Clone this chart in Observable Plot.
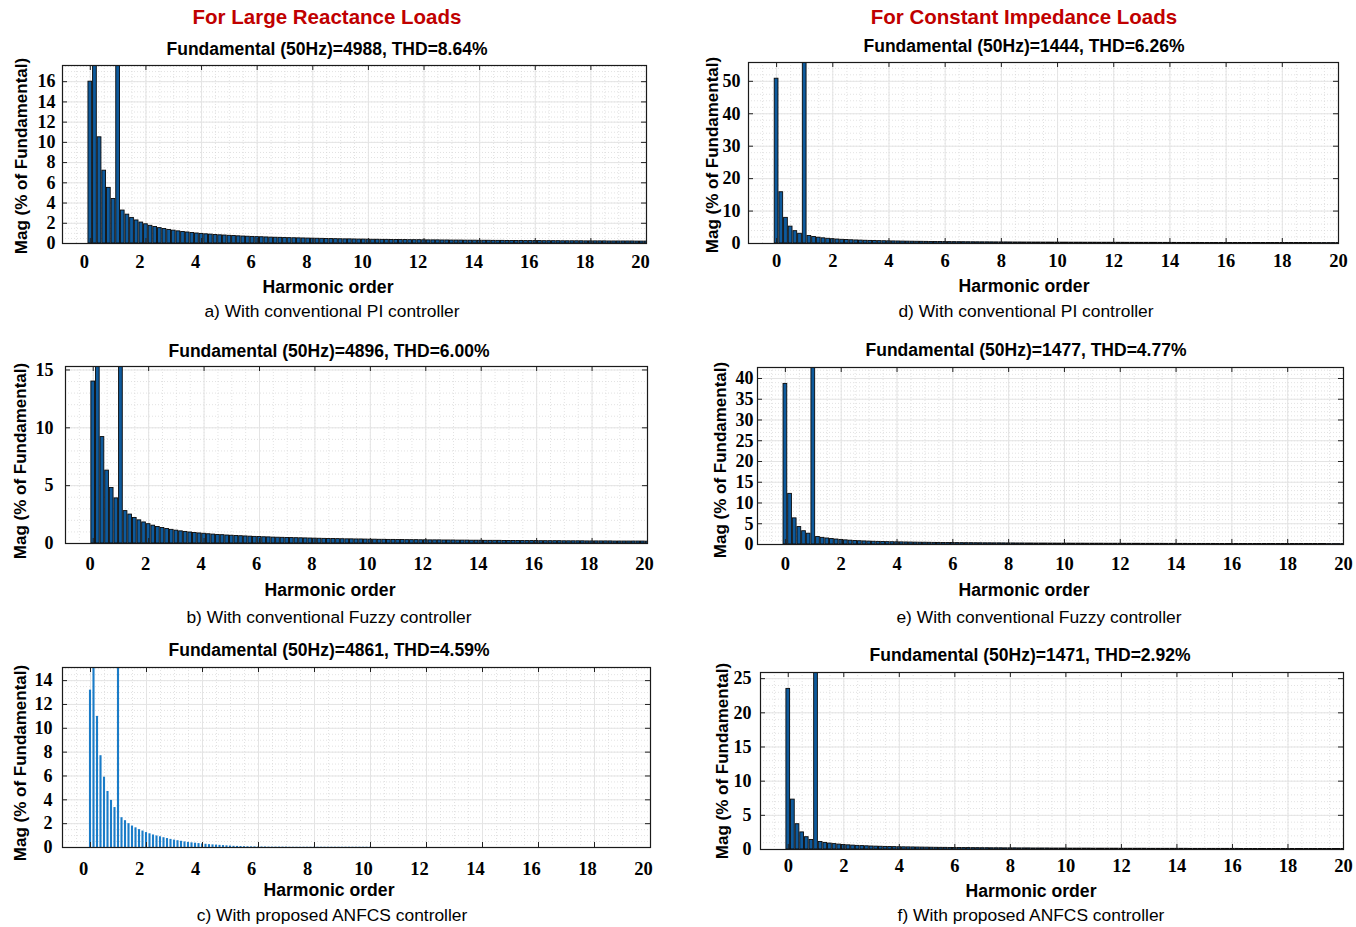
<!DOCTYPE html>
<html><head><meta charset="utf-8">
<script src="https://cdn.jsdelivr.net/npm/d3@7"></script>
<script src="https://cdn.jsdelivr.net/npm/@observablehq/plot@0.6"></script>
<style>
body{margin:0;background:#fff;}
#root{position:relative;width:1356px;height:927px;overflow:hidden;font-family:"Liberation Sans",Arial,sans-serif;color:#000;}
.t{position:absolute;white-space:nowrap;transform:translate(-50%,-50%);line-height:1;}
.hdr{font-weight:bold;font-size:20.5px;color:#c00000;}
.ttl{font-weight:bold;font-size:17.5px;}
.xl{font-weight:bold;font-size:17.6px;}
.cap{font-size:17.4px;}
.yl{font-weight:bold;font-size:17px;transform:translate(-50%,-50%) rotate(-90deg);}
.panel{position:absolute;}
</style></head><body><div id="root"></div>
<script>
// ---------- data ----------
const headers = ["For Large Reactance Loads", "For Constant Impedance Loads"];
const titles = [
  "Fundamental (50Hz)=4988, THD=8.64%",
  "Fundamental (50Hz)=4896, THD=6.00%",
  "Fundamental (50Hz)=4861, THD=4.59%",
  "Fundamental (50Hz)=1444, THD=6.26%",
  "Fundamental (50Hz)=1477, THD=4.77%",
  "Fundamental (50Hz)=1471, THD=2.92%"
];
const captions = [
  "a) With conventional PI controller",
  "b) With conventional Fuzzy controller",
  "c) With proposed ANFCS controller",
  "d) With conventional PI controller",
  "e) With conventional Fuzzy controller",
  "f) With proposed ANFCS controller"
];
const xLabel = "Harmonic order";
const yLabel = "Mag (% of Fundamental)";
const xTicks = [0, 2, 4, 6, 8, 10, 12, 14, 16, 18, 20];
const yTicksA = [0, 2, 4, 6, 8, 10, 12, 14, 16];
const yTicksB = [0, 5, 10, 15];
const yTicksC = [0, 2, 4, 6, 8, 10, 12, 14];
const yTicksD = [0, 10, 20, 30, 40, 50];
const yTicksE = [0, 5, 10, 15, 20, 25, 30, 35, 40];
const yTicksF = [0, 5, 10, 15, 20, 25];

// spectral resolution (bins per harmonic order)
const resA = 6, resB = 6, resC = 8, resD = 6, resE = 6, resF = 6;

const magA = [16.0, 19.5, 10.5, 7.2, 5.5, 4.4, 100,
  3.26, 2.85, 2.53, 2.28, 2.07, 1.9, 1.75, 1.63, 1.52, 1.43,
  1.34, 1.27, 1.2, 1.14, 1.09, 1.04, 0.99, 0.95, 0.91, 0.88,
  0.84, 0.81, 0.79, 0.76, 0.74, 0.71, 0.69, 0.67, 0.65, 0.63,
  0.62, 0.6, 0.58, 0.57, 0.56, 0.54, 0.53, 0.52, 0.51, 0.5, 0.49, 0.48,
  0.47, 0.46, 0.45, 0.44, 0.43, 0.42, 0.41, 0.41, 0.4, 0.39, 0.39, 0.38,
  0.37, 0.37, 0.36, 0.36, 0.35, 0.35, 0.34, 0.34, 0.33, 0.33, 0.33, 0.32,
  0.31, 0.31, 0.31, 0.3, 0.3, 0.29, 0.29, 0.29, 0.28, 0.28, 0.28, 0.27,
  0.27, 0.27, 0.26, 0.26, 0.26, 0.25, 0.25, 0.25, 0.25, 0.24, 0.24, 0.24,
  0.24, 0.23, 0.23, 0.23, 0.23, 0.22, 0.22, 0.22, 0.22, 0.22, 0.21, 0.21,
  0.21, 0.21, 0.21, 0.2, 0.2, 0.2, 0.2, 0.2, 0.2, 0.19, 0.19, 0.19];

const magB = [14.0, 17.0, 9.2, 6.3, 4.8, 3.9, 100,
  2.8, 2.5, 2.2, 2.0, 1.82, 1.67, 1.54, 1.43, 1.34, 1.25,
  1.18, 1.11, 1.05, 1.0, 0.95, 0.91, 0.87, 0.84, 0.8, 0.77,
  0.74, 0.72, 0.69, 0.67, 0.65, 0.63, 0.61, 0.59, 0.57, 0.56,
  0.54, 0.53, 0.51, 0.5, 0.49, 0.48, 0.47, 0.46, 0.45, 0.44, 0.43, 0.42,
  0.41, 0.4, 0.39, 0.39, 0.38, 0.37, 0.36, 0.36, 0.35, 0.35, 0.34, 0.33,
  0.33, 0.32, 0.32, 0.31, 0.31, 0.3, 0.3, 0.29, 0.29, 0.29, 0.28, 0.28,
  0.27, 0.27, 0.27, 0.26, 0.26, 0.26, 0.25, 0.25, 0.25, 0.24, 0.24, 0.24,
  0.23, 0.23, 0.23, 0.23, 0.22, 0.22, 0.22, 0.22, 0.21, 0.21, 0.21, 0.21,
  0.2, 0.2, 0.2, 0.2, 0.2, 0.19, 0.19, 0.19, 0.19, 0.19, 0.18, 0.18,
  0.18, 0.18, 0.18, 0.18, 0.17, 0.17, 0.17, 0.17, 0.17, 0.17, 0.17, 0.16];

const magC = [13.2, 16.5, 11.0, 7.7, 5.9, 4.7, 3.95, 3.35, 100,
  2.5, 2.25, 2.0, 1.8, 1.65, 1.5, 1.38, 1.25,
  1.15, 1.05, 0.97, 0.9, 0.82, 0.75, 0.68, 0.62,
  0.57, 0.52, 0.47, 0.43, 0.39, 0.36, 0.33, 0.3,
  0.27, 0.24, 0.22, 0.2, 0.18, 0.16, 0.14, 0.12,
  0.1, 0.09, 0.08, 0.07, 0.06, 0.05, 0.05, 0.04,
  0.04, 0.04, 0.03, 0.03, 0.03, 0.03, 0.03, 0.03,
  0.02, 0.02, 0.02, 0.02, 0.02, 0.02, 0.02, 0.02,
  0.02, 0.02, 0.02, 0.02, 0.02, 0.02, 0.02, 0.02,
  0.02, 0.02, 0.02, 0.02, 0.02, 0.02, 0.02, 0.02];

const magD = [50.8, 15.8, 7.9, 5.2, 3.8, 3.0, 100,
  2.3, 2.0, 1.78, 1.6, 1.45, 1.33, 1.23, 1.14, 1.07, 1.0,
  0.94, 0.89, 0.84, 0.8, 0.76, 0.73, 0.7, 0.67, 0.64, 0.62,
  0.59, 0.57, 0.55, 0.53, 0.52, 0.5, 0.48, 0.47, 0.46, 0.44,
  0.43, 0.42, 0.41, 0.4, 0.39, 0.38, 0.37, 0.36, 0.36, 0.35, 0.34, 0.33,
  0.33, 0.32, 0.31, 0.31, 0.3, 0.3, 0.29, 0.29, 0.28, 0.28, 0.27, 0.27,
  0.26, 0.26, 0.25, 0.25, 0.25, 0.24, 0.24, 0.24, 0.23, 0.23, 0.23, 0.22,
  0.22, 0.22, 0.21, 0.21, 0.21, 0.2, 0.2, 0.2, 0.2, 0.19, 0.19, 0.19,
  0.19, 0.18, 0.18, 0.18, 0.18, 0.18, 0.17, 0.17, 0.17, 0.17, 0.17, 0.16,
  0.16, 0.16, 0.16, 0.16, 0.16, 0.15, 0.15, 0.15, 0.15, 0.15, 0.15, 0.14,
  0.14, 0.14, 0.14, 0.14, 0.14, 0.14, 0.13, 0.13, 0.13, 0.13, 0.13, 0.13];

const magE = [38.7, 12.2, 6.3, 4.2, 3.2, 2.6, 100,
  1.8, 1.6, 1.45, 1.32, 1.2, 1.1, 1.0, 0.92, 0.85, 0.79,
  0.74, 0.7, 0.66, 0.63, 0.6, 0.57, 0.55, 0.53, 0.51, 0.49,
  0.47, 0.45, 0.43, 0.42, 0.41, 0.39, 0.38, 0.37, 0.36, 0.35,
  0.34, 0.33, 0.32, 0.32, 0.31, 0.3, 0.29, 0.29, 0.28, 0.28, 0.27, 0.26,
  0.26, 0.25, 0.25, 0.24, 0.24, 0.23, 0.23, 0.23, 0.22, 0.22, 0.21, 0.21,
  0.21, 0.2, 0.2, 0.2, 0.19, 0.19, 0.19, 0.19, 0.18, 0.18, 0.18, 0.18,
  0.17, 0.17, 0.17, 0.17, 0.16, 0.16, 0.16, 0.16, 0.16, 0.15, 0.15, 0.15,
  0.15, 0.15, 0.14, 0.14, 0.14, 0.14, 0.14, 0.14, 0.13, 0.13, 0.13, 0.13,
  0.13, 0.13, 0.13, 0.12, 0.12, 0.12, 0.12, 0.12, 0.12, 0.12, 0.12, 0.11,
  0.11, 0.11, 0.11, 0.11, 0.11, 0.11, 0.11, 0.11, 0.1, 0.1, 0.1, 0.1];

const magF = [23.5, 7.3, 3.7, 2.5, 1.8, 1.4, 100,
  1.1, 0.97, 0.87, 0.79, 0.72, 0.66, 0.61, 0.57, 0.53, 0.5,
  0.47, 0.44, 0.42, 0.4, 0.38, 0.36, 0.35, 0.33, 0.32, 0.31,
  0.3, 0.29, 0.28, 0.27, 0.26, 0.25, 0.24, 0.24, 0.23, 0.22,
  0.22, 0.21, 0.21, 0.2, 0.2, 0.19, 0.19, 0.18, 0.18, 0.18, 0.17, 0.17,
  0.17, 0.16, 0.16, 0.16, 0.15, 0.15, 0.15, 0.15, 0.14, 0.14, 0.14, 0.14,
  0.13, 0.13, 0.13, 0.13, 0.13, 0.12, 0.12, 0.12, 0.12, 0.12, 0.12, 0.11,
  0.11, 0.11, 0.11, 0.11, 0.11, 0.1, 0.1, 0.1, 0.1, 0.1, 0.1, 0.1,
  0.1, 0.1, 0.09, 0.09, 0.09, 0.09, 0.09, 0.09, 0.09, 0.09, 0.09, 0.09,
  0.09, 0.08, 0.08, 0.08, 0.08, 0.08, 0.08, 0.08, 0.08, 0.08, 0.08, 0.08,
  0.08, 0.08, 0.07, 0.07, 0.07, 0.07, 0.07, 0.07, 0.07, 0.07, 0.07, 0.07];

// ---------- layout (positions / styles) ----------
const layout = [
  {mags: magA, res: resA, yTicks: yTicksA, yMax: 17.6, yMinor: 0.5, frame: [62, 65, 646, 243], light: false, xPad: 11, yPad: 7, dx: -6,
   titleXY: [327, 50], xlabXY: [328, 288], capXY: [332, 312], ylabXY: [21, 156]},
  {mags: magB, res: resB, yTicks: yTicksB, yMax: 15.3, yMinor: 1, frame: [65, 366, 647, 543], light: false, xPad: 13, yPad: 12, dx: -3,
   titleXY: [329, 352], xlabXY: [330, 591], capXY: [329, 618], ylabXY: [20, 461]},
  {mags: magC, res: resC, yTicks: yTicksC, yMax: 15.1, yMinor: 0.5, frame: [62, 667, 650, 847], light: true, xPad: 14, yPad: 10, dx: -7,
   titleXY: [329, 651], xlabXY: [329, 891], capXY: [332, 916], ylabXY: [20, 763]},
  {mags: magD, res: resD, yTicks: yTicksD, yMax: 55.8, yMinor: 2, frame: [748, 62, 1338, 243], light: false, xPad: 10, yPad: 8, dx: 0,
   titleXY: [1024, 47], xlabXY: [1024, 287], capXY: [1026, 312], ylabXY: [712, 155]},
  {mags: magE, res: resE, yTicks: yTicksE, yMax: 42.65, yMinor: 1, frame: [757, 367, 1343, 544], light: false, xPad: 12, yPad: 4, dx: 0,
   titleXY: [1026, 351], xlabXY: [1024, 591], capXY: [1039, 618], ylabXY: [720, 460]},
  {mags: magF, res: resF, yTicks: yTicksF, yMax: 25.9, yMinor: 1, frame: [760, 672, 1343, 849], light: false, xPad: 9, yPad: 9, dx: 0,
   titleXY: [1030, 656], xlabXY: [1031, 892], capXY: [1031, 916], ylabXY: [722, 761]}
];
const headerXY = [[327, 17], [1024, 17]];

const root = document.getElementById("root");
function addText(str, xy, cls) {
  const d = document.createElement("div");
  d.className = "t " + cls;
  d.style.left = xy[0] + "px";
  d.style.top = xy[1] + "px";
  d.textContent = str;
  root.appendChild(d);
}
headers.forEach((h, i) => addText(h, headerXY[i], "hdr"));

const ML = 50, MR = 12, MT = 10, MB = 40;
const xMinor = d3.range(-1, 20.001, 0.5);

layout.forEach((p, i) => {
  const [l, t, r, b] = p.frame;
  const FW = r - l, FH = b - t;
  const bars = p.mags.map((v, k) => ({pos: k / p.res, v}));
  const hw = (p.light ? 0.3 : 0.4) / p.res;
  const yMinor = d3.range(0, p.yMax + 0.001, p.yMinor);
  const chart = Plot.plot({
    width: FW + ML + MR,
    height: FH + MT + MB,
    marginLeft: ML, marginRight: MR, marginTop: MT, marginBottom: MB,
    x: {domain: [-1, 20]},
    y: {domain: [0, p.yMax]},
    style: {background: "transparent", overflow: "visible"},
    marks: [
      Plot.ruleX(xMinor, {stroke: "#d6d6d6", strokeWidth: 0.7, strokeDasharray: "1,2"}),
      Plot.ruleY(yMinor, {stroke: "#d6d6d6", strokeWidth: 0.7, strokeDasharray: "1,2"}),
      Plot.ruleX(xTicks, {stroke: "#e4e4e4", strokeWidth: 1}),
      Plot.ruleY(p.yTicks, {stroke: "#e4e4e4", strokeWidth: 1}),
      Plot.rectY(bars, {
        x1: d => d.pos - hw, x2: d => d.pos + hw, y1: 0, y2: "v",
        fill: p.light ? "#1a7cc8" : "#0e5a9c",
        stroke: p.light ? "none" : "#0a0a0a",
        strokeWidth: 0.9,
        clip: true
      }),
      Plot.ruleX(xTicks, {stroke: "#222", insetBottom: FH - 5}),
      Plot.ruleX(xTicks, {stroke: "#222", insetTop: FH - 5}),
      Plot.ruleY(p.yTicks, {stroke: "#222", insetRight: FW - 5}),
      Plot.ruleY(p.yTicks, {stroke: "#222", insetLeft: FW - 5}),
      Plot.frame({stroke: "#1a1a1a", strokeWidth: 1.2}),
      Plot.axisX(xTicks, {tickSize: 0, tickPadding: p.xPad, dx: p.dx, label: null,
        fontFamily: "Liberation Serif", fontSize: 18.5, fontWeight: "bold", fill: "#000"}),
      Plot.axisY(p.yTicks, {tickSize: 0, tickPadding: p.yPad, label: null,
        fontFamily: "Liberation Serif", fontSize: 18, fontWeight: "bold", fill: "#000"})
    ]
  });
  const holder = document.createElement("div");
  holder.className = "panel";
  holder.style.left = (l - ML) + "px";
  holder.style.top = (t - MT) + "px";
  holder.appendChild(chart);
  root.appendChild(holder);
  addText(titles[i], p.titleXY, "ttl");
  addText(xLabel, p.xlabXY, "xl");
  addText(captions[i], p.capXY, "cap");
  addText(yLabel, p.ylabXY, "yl");
});
</script></body></html>
